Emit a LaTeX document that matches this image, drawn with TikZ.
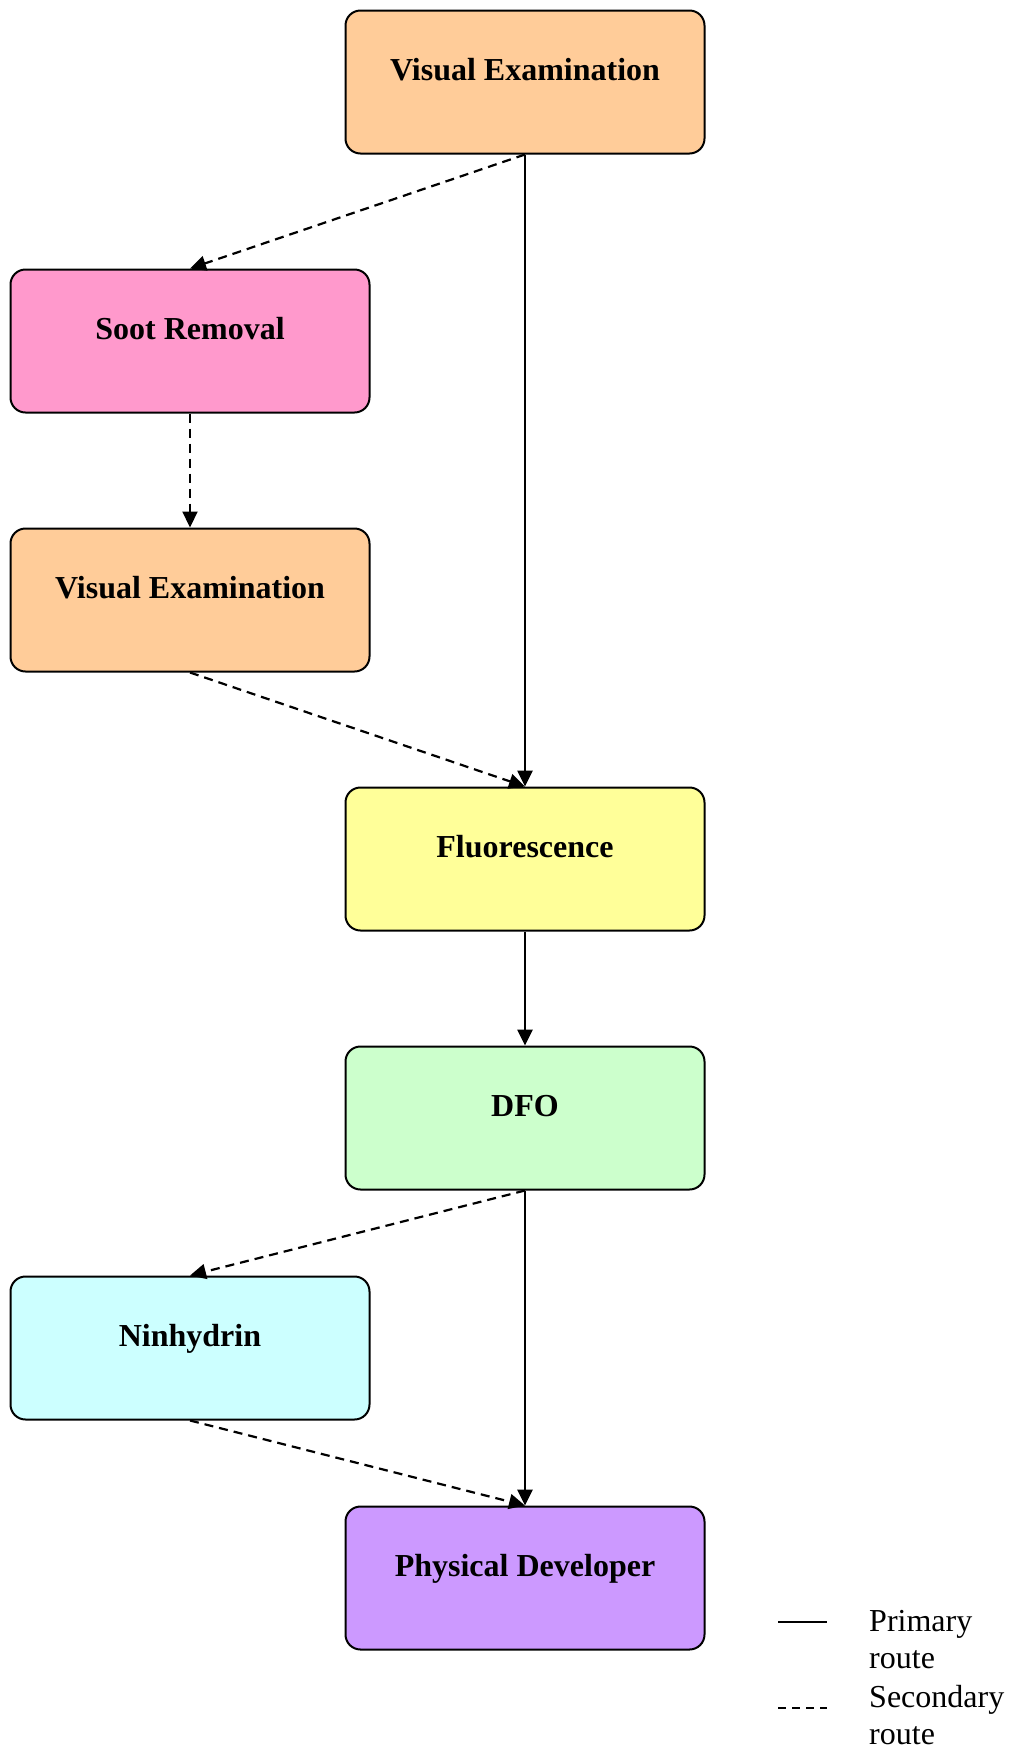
\documentclass[tikz,border=0pt]{standalone}
\usepackage{fontspec}
\setmainfont{Liberation Serif}
\usepackage{xcolor}
\usetikzlibrary{arrows.meta,positioning}

\definecolor{peach}{HTML}{FFCC99}
\definecolor{sootpink}{HTML}{FF99CC}
\definecolor{fluoryellow}{HTML}{FFFF99}
\definecolor{dfogreen}{HTML}{CCFFCC}
\definecolor{ninhcyan}{HTML}{CCFFFF}
\definecolor{pdpurple}{HTML}{CC99FF}

\begin{document}
\begin{tikzpicture}[
  x=1pt, y=-1pt,
  font=\fontsize{32}{37}\selectfont,
  stage/.style={draw, line width=2pt, rounded corners=15pt, minimum width=359pt, minimum height=143pt,
    font=\fontsize{32}{37}\selectfont\bfseries, text height=22pt, text depth=26pt, inner sep=0pt},
  primary/.style={line width=2.6pt, -{Triangle[length=16pt, width=15pt]}},
  secondary/.style={line width=2.2pt, dash pattern=on 9pt off 6pt, -{Triangle[length=16pt, width=15pt]}},
  legendtext/.style={align=left, anchor=west, inner sep=0pt}
]
\useasboundingbox (0,0) rectangle (1010,1749);

\node[stage, fill=peach] (visual) at (525,82) {Visual Examination};
\node[stage, fill=sootpink] (soot) at (190,341) {Soot Removal};
\node[stage, fill=peach] (revisual) at (190,600) {Visual Examination};
\node[stage, fill=fluoryellow] (fluor) at (525,859) {Fluorescence};
\node[stage, fill=dfogreen] (dfo) at (525,1118) {DFO};
\node[stage, fill=ninhcyan] (ninhydrin) at (190,1348) {Ninhydrin};
\node[stage, fill=pdpurple] (physdev) at (525,1578) {Physical Developer};

\draw[secondary] (visual.south) -- (soot.north);
\draw[primary] (visual.south) -- (fluor.north);
\draw[secondary] (soot.south) -- (revisual.north);
\draw[secondary] (revisual.south) -- (fluor.north);
\draw[primary] (fluor.south) -- (dfo.north);
\draw[secondary] (dfo.south) -- (ninhydrin.north);
\draw[primary] (dfo.south) -- (physdev.north);
\draw[secondary] (ninhydrin.south) -- (physdev.north);

% legend
\coordinate (solidA) at (778,1622);
\coordinate (solidB) at (827,1622);
\coordinate (dashA) at (778,1708);
\coordinate (dashB) at (827,1708);
\draw[line width=1.8pt] (solidA) -- (solidB);
\draw[line width=1.8pt, dash pattern=on 8pt off 6pt] (dashA) -- (dashB);
\node[legendtext] (primlabel) at (869,1640) {Primary\\route};
\node[legendtext] (seclabel) at (869,1715) {Secondary\\route};
\end{tikzpicture}
\end{document}
